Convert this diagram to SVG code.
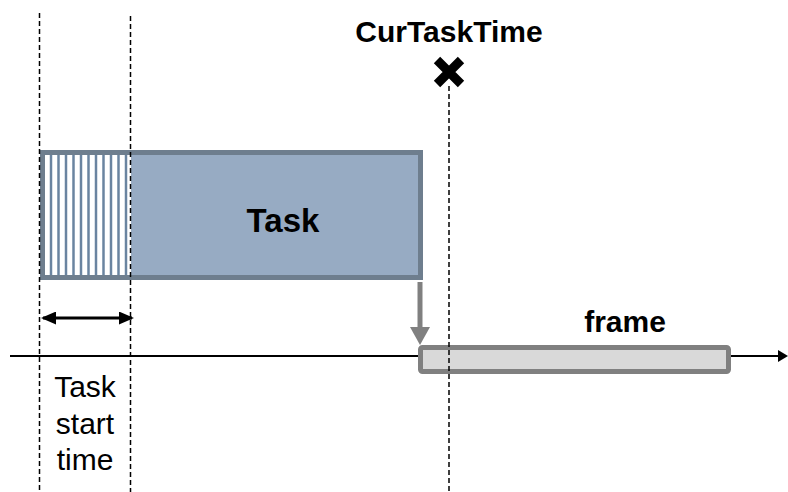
<svg xmlns="http://www.w3.org/2000/svg" width="788" height="492" viewBox="0 0 788 492">
<style>
.dash{stroke:#000;stroke-width:1.5;stroke-dasharray:5,3;fill:none}
.lbl{font-family:"Liberation Sans",Arial,sans-serif;fill:#000}
.b{font-weight:bold}
</style>
<defs>
<marker id="ah" markerWidth="10" markerHeight="12" refX="8" refY="6" orient="auto" markerUnits="userSpaceOnUse"><path d="M0,0 L10,6 L0,12 Z" fill="#000"/></marker>
<marker id="ahs" markerWidth="15" markerHeight="13" refX="13" refY="6.5" orient="auto-start-reverse" markerUnits="userSpaceOnUse"><path d="M0,0 L15,6.5 L0,13 Z" fill="#000"/></marker>
</defs>
<g id="connectors">
<line x1="10" y1="356" x2="786" y2="356" stroke="#000" stroke-width="2" marker-end="url(#ah)"/>
<line x1="420" y1="282" x2="420" y2="335" stroke="#808080" stroke-width="5"/>
<path d="M410,327 L430,327 L420,345 Z" fill="#808080"/>
<line x1="43" y1="318" x2="132" y2="318" stroke="#000" stroke-width="3" marker-start="url(#ahs)" marker-end="url(#ahs)"/>
</g>
<g id="task">
<rect x="42.5" y="152.5" width="378" height="125" fill="#97abc3" stroke="#6e7e8e" stroke-width="5"/>
<rect x="45" y="155" width="86" height="120" fill="#fff"/>
<g stroke="#6a84a0" stroke-width="2.5">
<line x1="51" y1="155" x2="51" y2="275"/><line x1="58.5" y1="155" x2="58.5" y2="275"/><line x1="66" y1="155" x2="66" y2="275"/><line x1="73.5" y1="155" x2="73.5" y2="275"/><line x1="81" y1="155" x2="81" y2="275"/><line x1="88.5" y1="155" x2="88.5" y2="275"/><line x1="96" y1="155" x2="96" y2="275"/><line x1="103.5" y1="155" x2="103.5" y2="275"/><line x1="111" y1="155" x2="111" y2="275"/><line x1="118.5" y1="155" x2="118.5" y2="275"/><line x1="126" y1="155" x2="126" y2="275"/>
</g>
<text class="lbl b" x="283" y="232" font-size="33" text-anchor="middle">Task</text>
</g>
<g id="frame">
<rect x="420.5" y="347.5" width="308" height="24" rx="2" fill="#d9d9d9" stroke="#808080" stroke-width="5"/>
<text class="lbl b" x="625" y="332" font-size="30" text-anchor="middle">frame</text>
</g>
<g id="guides">
<line class="dash" x1="39.5" y1="13" x2="39.5" y2="492"/>
<line class="dash" x1="130.5" y1="16" x2="130.5" y2="492"/>
<line class="dash" x1="449" y1="86" x2="449" y2="492"/>
</g>
<g id="curtasktime">
<path d="M437,60 L461,84 M461,60 L437,84" stroke="#000" stroke-width="9"/>
<text class="lbl b" x="449" y="42" font-size="30" text-anchor="middle">CurTaskTime</text>
</g>
<g id="startlabel">
<text class="lbl" font-size="30" text-anchor="middle"><tspan x="85" y="397">Task</tspan><tspan x="85" y="434">start</tspan><tspan x="85" y="470">time</tspan></text>
</g>
</svg>
